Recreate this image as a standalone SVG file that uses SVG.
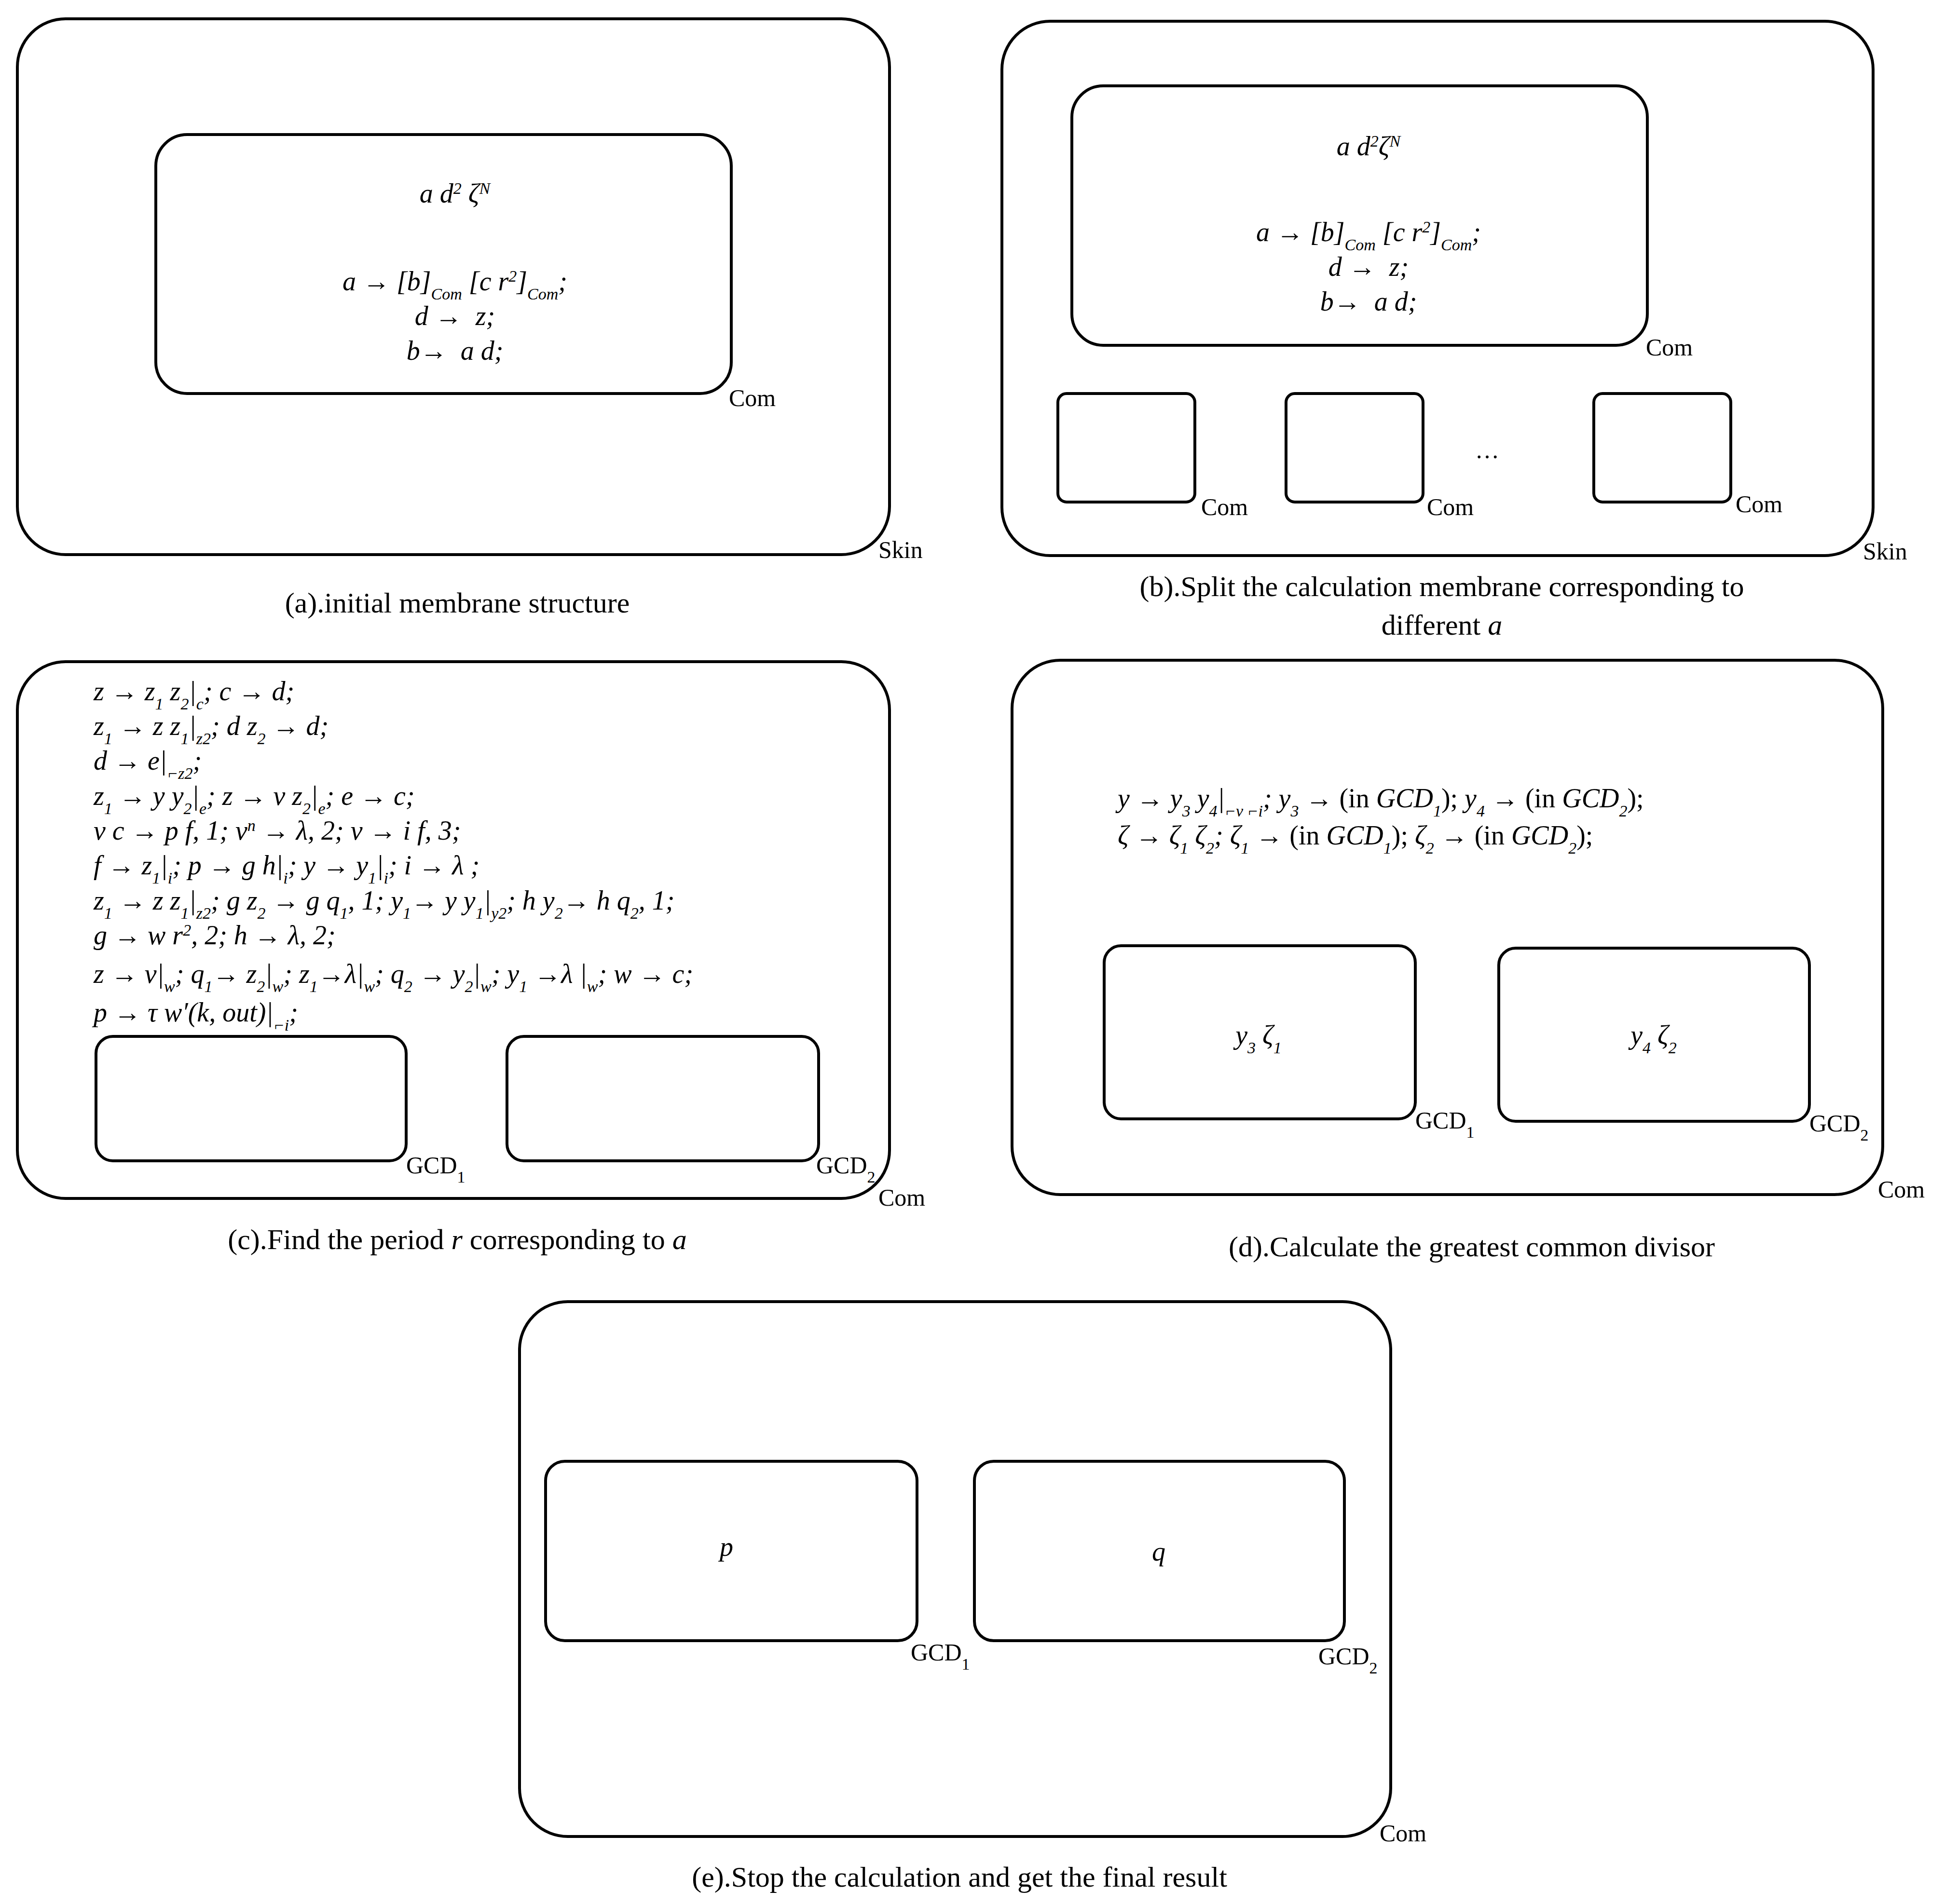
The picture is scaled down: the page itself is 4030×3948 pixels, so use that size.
<svg xmlns="http://www.w3.org/2000/svg" width="4030" height="3948" viewBox="0 0 4030 3948">
<style>
.b{fill:none;stroke:#000;stroke-width:6}
.t{font-family:"Liberation Serif",serif;font-size:50px;fill:#000}
.c{font-family:"Liberation Serif",serif;font-size:60px;fill:#000;text-anchor:middle}
.m{font-family:"Liberation Serif",serif;font-style:italic;font-size:56px;fill:#000}
.mm{text-anchor:middle}
.u{font-size:34px;baseline-shift:sub}
.p{font-size:34px;baseline-shift:super}
.r{font-style:normal}
</style>
<rect width="4030" height="3948" fill="#fff"/>
<g id="panelA">
<rect class="b" x="36" y="39" width="1808" height="1111" rx="100"/>
<rect class="b" x="323" y="279" width="1193" height="537" rx="65"/>
<text class="m mm" x="943" y="420">a d<tspan class="p">2</tspan> ζ<tspan class="p">N</tspan></text>
<text class="m mm" x="943" y="602">a → [b]<tspan class="u">Com</tspan> [c r<tspan class="p">2</tspan>]<tspan class="u">Com</tspan>;</text>
<text class="m mm" x="943" y="674" xml:space="preserve">d →  z;</text>
<text class="m mm" x="943" y="746" xml:space="preserve">b→  a d;</text>
<text class="t" x="1511" y="842">Com</text>
<text class="t" x="1821" y="1157">Skin</text>
<text class="c" x="948" y="1270">(a).initial membrane structure</text>
</g>
<g id="panelB">
<rect class="b" x="2077" y="44" width="1806" height="1108" rx="100"/>
<rect class="b" x="2222" y="178" width="1193" height="538" rx="65"/>
<text class="m mm" x="2837" y="322">a d<tspan class="p">2</tspan>ζ<tspan class="p">N</tspan></text>
<text class="m mm" x="2837" y="500">a → [b]<tspan class="u">Com</tspan> [c r<tspan class="p">2</tspan>]<tspan class="u">Com</tspan>;</text>
<text class="m mm" x="2837" y="572" xml:space="preserve">d →  z;</text>
<text class="m mm" x="2837" y="644" xml:space="preserve">b→  a d;</text>
<text class="t" x="3412" y="737">Com</text>
<rect class="b" x="2193" y="816" width="284" height="225" rx="18"/>
<rect class="b" x="2666" y="816" width="284" height="225" rx="18"/>
<rect class="b" x="3304" y="816" width="284" height="225" rx="18"/>
<text class="t" x="2490" y="1068">Com</text>
<text class="t" x="2958" y="1068">Com</text>
<text class="t" x="3598" y="1062">Com</text>
<text class="t" x="3058" y="950">…</text>
<text class="t" x="3862" y="1160">Skin</text>
<text class="c" x="2989" y="1236">(b).Split the calculation membrane corresponding to</text>
<text class="c" x="2989" y="1316">different <tspan font-style="italic">a</tspan></text>
</g>
<g id="panelC">
<rect class="b" x="36" y="1372" width="1808" height="1113" rx="100"/>
<g class="m" xml:space="preserve">
<text x="194" y="1452">z → z<tspan class="u">1</tspan> z<tspan class="u">2</tspan>|<tspan class="u">c</tspan>;   c → d;</text>
<text x="194" y="1524">z<tspan class="u">1</tspan> → z z<tspan class="u">1</tspan>|<tspan class="u">z2</tspan>;  d z<tspan class="u">2</tspan> → d;</text>
<text x="194" y="1596">d → e|<tspan class="u">⌐z2</tspan>;</text>
<text x="194" y="1669">z<tspan class="u">1</tspan> → y y<tspan class="u">2</tspan>|<tspan class="u">e</tspan>;   z → v z<tspan class="u">2</tspan>|<tspan class="u">e</tspan>;    e → c;</text>
<text x="194" y="1741">v c → p f, 1;     v<tspan class="p">n</tspan> → λ, 2;      v → i f, 3;</text>
<text x="194" y="1813">f → z<tspan class="u">1</tspan>|<tspan class="u">i</tspan>;  p → g h|<tspan class="u">i</tspan>;   y → y<tspan class="u">1</tspan>|<tspan class="u">i</tspan>;  i → λ ;</text>
<text x="194" y="1886">z<tspan class="u">1</tspan> → z z<tspan class="u">1</tspan>|<tspan class="u">z2</tspan>;   g z<tspan class="u">2</tspan> → g q<tspan class="u">1</tspan>, 1;   y<tspan class="u">1</tspan>→ y y<tspan class="u">1</tspan>|<tspan class="u">y2</tspan>;   h y<tspan class="u">2</tspan>→ h q<tspan class="u">2</tspan>, 1;</text>
<text x="194" y="1958">g → w r<tspan class="p">2</tspan>, 2;   h → λ, 2;</text>
<text x="194" y="2038">z → v|<tspan class="u">w</tspan>;   q<tspan class="u">1</tspan>→ z<tspan class="u">2</tspan>|<tspan class="u">w</tspan>;   z<tspan class="u">1</tspan>→λ|<tspan class="u">w</tspan>; q<tspan class="u">2</tspan> → y<tspan class="u">2</tspan>|<tspan class="u">w</tspan>;   y<tspan class="u">1</tspan> →λ |<tspan class="u">w</tspan>;   w → c;</text>
<text x="194" y="2118">p → τ w′(k, out)|<tspan class="u">⌐i</tspan>;</text>
</g>
<rect class="b" x="199" y="2149" width="643" height="258" rx="35"/>
<rect class="b" x="1051" y="2149" width="646" height="258" rx="35"/>
<text class="t" x="842" y="2433">GCD<tspan class="u">1</tspan></text>
<text class="t" x="1692" y="2433">GCD<tspan class="u">2</tspan></text>
<text class="t" x="1821" y="2500">Com</text>
<text class="c" x="948" y="2590">(c).Find the period <tspan font-style="italic">r</tspan> corresponding to <tspan font-style="italic">a</tspan></text>
</g>
<g id="panelD">
<rect class="b" x="2098" y="1369" width="1805" height="1108" rx="100"/>
<g class="m" xml:space="preserve">
<text x="2317" y="1674">y → y<tspan class="u">3</tspan> y<tspan class="u">4</tspan>|<tspan class="u">⌐v ⌐i</tspan>;    y<tspan class="u">3</tspan> → <tspan class="r">(in </tspan>GCD<tspan class="u">1</tspan><tspan class="r">);</tspan>    y<tspan class="u">4</tspan> → <tspan class="r">(in </tspan>GCD<tspan class="u">2</tspan><tspan class="r">);</tspan></text>
<text x="2317" y="1751">ζ → ζ<tspan class="u">1</tspan> ζ<tspan class="u">2</tspan>;    ζ<tspan class="u">1</tspan> → <tspan class="r">(in </tspan>GCD<tspan class="u">1</tspan><tspan class="r">);</tspan>    ζ<tspan class="u">2</tspan> → <tspan class="r">(in </tspan>GCD<tspan class="u">2</tspan><tspan class="r">);</tspan></text>
</g>
<rect class="b" x="2289" y="1961" width="645" height="359" rx="35"/>
<rect class="b" x="3107" y="1966" width="644" height="359" rx="35"/>
<text class="m mm" x="2609" y="2165">y<tspan class="u">3</tspan> ζ<tspan class="u">1</tspan></text>
<text class="m mm" x="3428" y="2165">y<tspan class="u">4</tspan> ζ<tspan class="u">2</tspan></text>
<text class="t" x="2934" y="2340">GCD<tspan class="u">1</tspan></text>
<text class="t" x="3751" y="2346">GCD<tspan class="u">2</tspan></text>
<text class="t" x="3893" y="2483">Com</text>
<text class="c" x="3051" y="2605">(d).Calculate the greatest common divisor</text>
</g>
<g id="panelE">
<rect class="b" x="1077" y="2699" width="1806" height="1109" rx="100"/>
<rect class="b" x="1131" y="3030" width="770" height="372" rx="40"/>
<rect class="b" x="2020" y="3030" width="767" height="372" rx="40"/>
<text class="m mm" x="1506" y="3226">p</text>
<text class="m mm" x="2402" y="3236">q</text>
<text class="t" x="1888" y="3443">GCD<tspan class="u">1</tspan></text>
<text class="t" x="2733" y="3451">GCD<tspan class="u">2</tspan></text>
<text class="t" x="2860" y="3818">Com</text>
<text class="c" x="1989" y="3912">(e).Stop the calculation and get the final result</text>
</g>
<g id="connectors"/>
</svg>
